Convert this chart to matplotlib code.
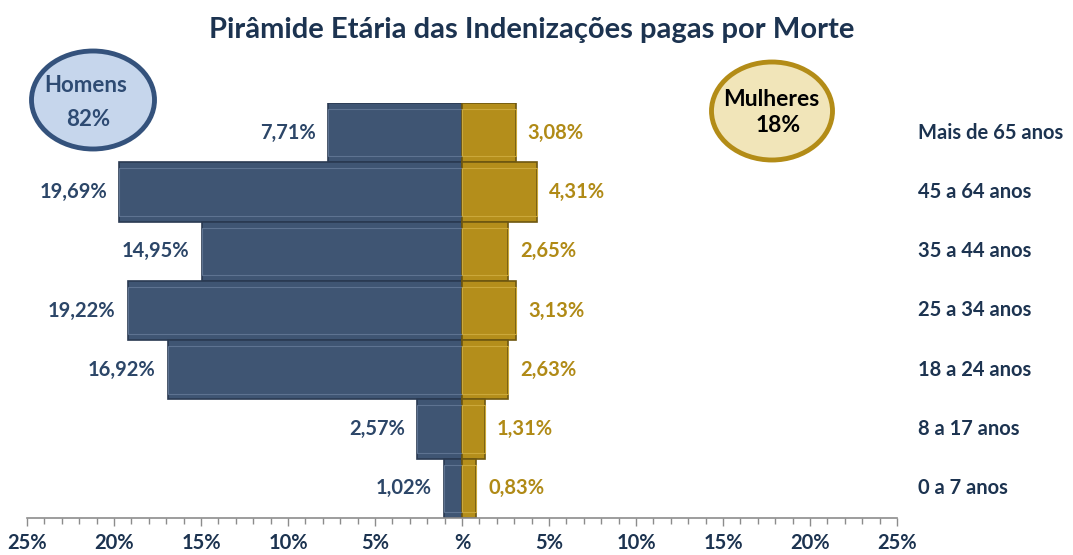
import matplotlib
matplotlib.use("Agg")
import matplotlib.pyplot as plt
from matplotlib.patches import Ellipse
from matplotlib.ticker import MultipleLocator, FuncFormatter

# dados (% do total de indenizações por morte)
faixas = ["Mais de 65 anos", "45 a 64 anos", "35 a 44 anos", "25 a 34 anos",
          "18 a 24 anos", "8 a 17 anos", "0 a 7 anos"]
homens = [7.71, 19.69, 14.95, 19.22, 16.92, 2.57, 1.02]
mulheres = [3.08, 4.31, 2.65, 3.13, 2.63, 1.31, 0.83]
total_homens = "82%"
total_mulheres = "18%"

plt.rcParams["font.family"] = ["Lato", "DejaVu Sans"]

azul = "#3F5573"
ouro = "#B48E1B"
txt_azul = "#2C4668"
txt_ouro = "#B08A16"
navy = "#1C3350"

fig = plt.figure(figsize=(10.73, 5.55), dpi=100)
ax = fig.add_axes([27 / 1073, 37 / 555, 870 / 1073, 415 / 555])

n = len(faixas)
ypos = [n - 1 - i for i in range(n)]

ax.barh(ypos, [-h for h in homens], height=1.0, color=azul,
        edgecolor="#2A3A52", linewidth=1.2)
ax.barh(ypos, mulheres, height=1.0, color=ouro,
        edgecolor="#6E5710", linewidth=1.2)
# leve relevo interno
ax.barh(ypos, [-h for h in homens], height=0.8, color="none",
        edgecolor="#5E7391", linewidth=0.8)
ax.barh(ypos, mulheres, height=0.8, color="none",
        edgecolor="#CBA83A", linewidth=0.8)

for y, h, m, f in zip(ypos, homens, mulheres, faixas):
    ax.text(-h - 0.7, y, f"{h:.2f}%".replace(".", ","), ha="right", va="center",
            fontsize=14.5, fontweight="bold", color=txt_azul)
    ax.text(m + 0.7, y, f"{m:.2f}%".replace(".", ","), ha="left", va="center",
            fontsize=14.5, fontweight="bold", color=txt_ouro)
    ax.text(26.2, y, f, ha="left", va="center", fontsize=14.5,
            fontweight="bold", color=navy)

ax.set_xlim(-25, 25)
ax.set_ylim(-0.5, n - 0.5)
ax.set_yticks([])
ax.xaxis.set_major_locator(MultipleLocator(5))
ax.xaxis.set_minor_locator(MultipleLocator(1))
ax.xaxis.set_major_formatter(
    FuncFormatter(lambda v, p: "%" if v == 0 else f"{abs(v):.0f}%"))
ax.tick_params(axis="x", which="major", length=6, width=1, color="#8C8C8C",
               labelsize=14.5, labelcolor=navy, pad=5)
ax.tick_params(axis="x", which="minor", length=4, width=1, color="#8C8C8C")
for lbl in ax.get_xticklabels():
    lbl.set_fontweight("bold")
for s in ["top", "right", "left"]:
    ax.spines[s].set_visible(False)
ax.spines["bottom"].set_color("#8C8C8C")
ax.spines["bottom"].set_linewidth(1.2)

fig.text(532 / 1073, 1 - 30 / 555, "Pirâmide Etária das Indenizações pagas por Morte",
         ha="center", va="center", fontsize=21, fontweight="bold", color=navy)

# balões com totais
e1 = Ellipse((93 / 1073, 1 - 100 / 555), 123 / 1073, 98 / 555,
             transform=fig.transFigure, facecolor="#C6D6EC",
             edgecolor="#34527C", linewidth=3.5)
fig.add_artist(e1)
fig.text(86 / 1073, 1 - 86 / 555, "Homens", ha="center", va="center",
         fontsize=16, fontweight="bold", color="#2E4B73")
fig.text(88 / 1073, 1 - 120 / 555, total_homens, ha="center", va="center",
         fontsize=16, fontweight="bold", color="#2E4B73")

e2 = Ellipse((772 / 1073, 1 - 111 / 555), 121 / 1073, 98 / 555,
             transform=fig.transFigure, facecolor="#F1E5B9",
             edgecolor="#B38C17", linewidth=3.5)
fig.add_artist(e2)
fig.text(771 / 1073, 1 - 100 / 555, "Mulheres", ha="center", va="center",
         fontsize=16.5, fontweight="bold", color="black")
fig.text(778 / 1073, 1 - 126 / 555, total_mulheres, ha="center", va="center",
         fontsize=16.5, fontweight="bold", color="black")

fig.savefig("out.png", dpi=100)
